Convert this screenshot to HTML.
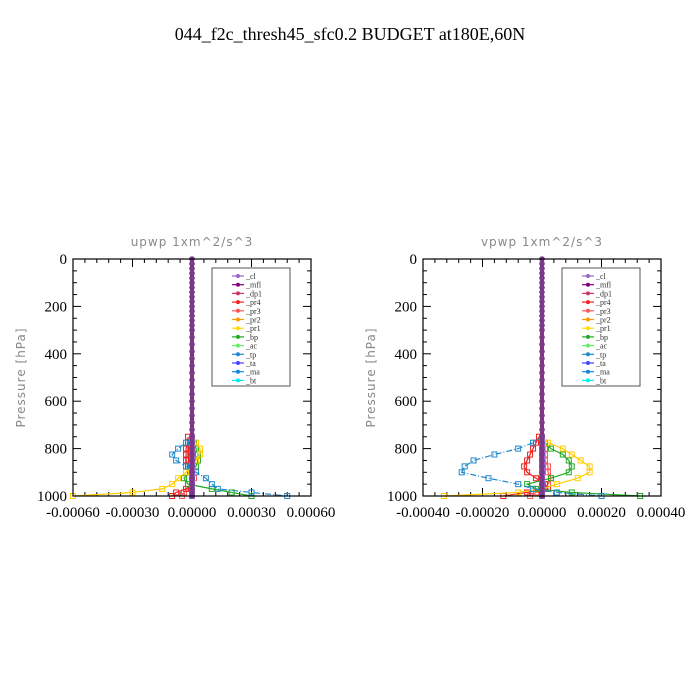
<!DOCTYPE html>
<html><head><meta charset="utf-8"><style>
html,body{margin:0;padding:0;background:#fff;width:700px;height:700px;overflow:hidden}
svg text{font-family:"Liberation Serif",serif}
.sub{font-family:"DejaVu Sans","Liberation Sans",sans-serif;fill:#888;font-size:12px;letter-spacing:1px}
</style></head><body>
<svg id="chart" width="700" height="700" xmlns="http://www.w3.org/2000/svg">
<text x="350" y="40" text-anchor="middle" font-size="18">044_f2c_thresh45_sfc0.2  BUDGET at180E,60N</text>
</svg>
<script>
const upperLevels=[0,20,40,60,80,100,120,140,160,180,200,220,240,260,280,300,330,360,390,420,450,480,510,540,570,600,630,660,690,720];
const lowLevels=[750,775,800,825,850,875,900,925,950,970,985,1000];
const seriesNames=["_cl","_mfl","_dp1","_pr4","_pr3","_pr2","_pr1","_bp","_ac","_tp","_ta","_ma","_bt"];
const seriesColors=["#9966cc","#800080","#cc3366","#ee2222","#ff5555","#ff9900","#ffdd00","#22aa22","#66ee66","#2288cc","#4444ff","#1188dd","#00eeee"];
const xTicksU=[-0.0006,-0.0003,0,0.0003,0.0006];
const xTickLabelsU=["-0.00060","-0.00030","0.00000","0.00030","0.00060"];
const xTicksV=[-0.0004,-0.0002,0,0.0002,0.0004];
const xTickLabelsV=["-0.00040","-0.00020","0.00000","0.00020","0.00040"];
const yTicks=[0,200,400,600,800,1000];
// upwp
const uTp=[0,-0.00003,-0.00007,-0.0001,-0.00008,-0.00003,0.00002,0.00007,0.0001,0.00013,0.0003,0.00048];
const uPr1=[0,0.00002,0.00004,0.00004,0.00002,0,-0.00003,-0.00007,-0.0001,-0.00015,-0.0003,-0.0006];
const uBp=[0,0.00001,0.00002,0.00003,0.00003,0.00002,-0.00001,-0.00004,-0.00002,0.0001,0.0002,0.0003];
const uPr4=[-0.00002,-0.00002,-0.00003,-0.00003,-0.00003,-0.00002,-0.00001,0,0,-0.00003,-0.00008,-0.0001];
const uPr3=[0,-0.00001,-0.00001,-0.00001,-0.00002,-0.00001,0,0.00001,0,-0.00002,-0.00004,-0.00005];
const uCl=[0,0,0,0,0,0,0,0,0,0,0,0];
// vpwp
const vTp=[0,-0.00003,-0.00008,-0.00016,-0.00023,-0.00026,-0.00027,-0.00018,-0.00008,-0.00003,0.00005,0.0002];
const vPr1=[0,0.00002,0.00007,0.0001,0.00013,0.00016,0.00016,0.00012,0.00005,0,-0.00008,-0.00033];
const vBp=[0,0.00001,0.00003,0.00007,0.00009,0.0001,0.00009,0.00003,-0.00005,-0.00002,0.0001,0.00033];
const vPr4=[-0.00001,-0.00002,-0.00003,-0.00004,-0.00005,-0.00006,-0.00005,-0.00002,0.00001,0.00002,-0.00005,-0.00013];
const vPr3=[0,0.00001,0.00001,0.00001,0.00001,0.00002,0.00002,0.00003,0.00002,0.00001,-0.00002,-0.00004];
const vCl=[0,0,0,0,0,0,0,0,0,0,0,0];

const NS="http://www.w3.org/2000/svg";
const svg=document.getElementById("chart");
function mk(tag,attrs,parent){const e=document.createElementNS(NS,tag);for(const k in attrs)e.setAttribute(k,attrs[k]);(parent||svg).appendChild(e);return e;}

function panel(x0,title,prefix,xmax,xTicks,xLabels,series){
  const y0=259,w=238,h=237;
  const g=mk("g",{});
  
  
  const sx=v=>x0+(v+xmax)/(2*xmax)*w;
  const sy=p=>y0+p/1000*h;
  const t=mk("text",{x:x0+w/2,y:246,"text-anchor":"middle",class:"sub"},g);
  t.textContent=title;
  
  
  const yl=mk("text",{x:0,y:0,"text-anchor":"middle",class:"sub",transform:`translate(${x0-48},${y0+h/2}) rotate(-90)`},g);
  yl.textContent="Pressure [hPa]";
  
  
  // ticks
  for(let p=0;p<=1000;p+=50){
    const len=p%200===0?8:4;
    mk("line",{x1:x0,x2:x0+len,y1:sy(p),y2:sy(p),stroke:"#000"},g);
    mk("line",{x1:x0+w,x2:x0+w-len,y1:sy(p),y2:sy(p),stroke:"#000"},g);
  }
  yTicks.forEach(p=>{
    const tl=mk("text",{x:x0-6,y:sy(p)+5,"text-anchor":"end","font-size":"15"},g);
    tl.textContent=String(p);
    
    
  });
  const step=(xTicks[1]-xTicks[0])/5;
  for(let v=-xmax;v<=xmax+1e-12;v+=step){
    const major=xTicks.some(t=>Math.abs(t-v)<1e-12);
    const len=major?8:4;
    mk("line",{x1:sx(v),x2:sx(v),y1:y0+h,y2:y0+h-len,stroke:"#000"},g);
    mk("line",{x1:sx(v),x2:sx(v),y1:y0,y2:y0+len,stroke:"#000"},g);
  }
  xTicks.forEach((v,i)=>{
    const tl=mk("text",{x:sx(v),y:y0+h+21,"text-anchor":"middle","font-size":"15"},g);
    tl.textContent=xLabels[i];
    
    
  });
  // series
  series.forEach(s=>{
    const pts=lowLevels.map((p,i)=>sx(s.vals[i])+","+sy(p)).join(" ");
    const pl=mk("polyline",{points:pts,fill:"none",stroke:s.color,"stroke-width":"1.2","stroke-dasharray":s.dash||""},g);
    
    
    lowLevels.forEach((p,i)=>{
      const m=mk("rect",{x:sx(s.vals[i])-2.5,y:sy(p)-2.5,width:5,height:5,fill:"none",stroke:s.color},g);
      
      
    });
  });
  // central zero line for cl/mfl/dp1
  const cx=sx(0);
  const cl=mk("line",{x1:cx,x2:cx,y1:y0,y2:y0+h,stroke:"#883377","stroke-width":"4"},g);
  
  
  upperLevels.concat(lowLevels).forEach(p=>{
    const d=mk("circle",{cx:cx,cy:sy(p),r:2.8,fill:"#7a3a8a"},g);
    
    
  });
  mk("rect",{x:x0,y:y0,width:w,height:h,fill:"none",stroke:"#000","stroke-width":"1.2"},g);
  // legend
  const lx=x0+139,ly=268;
  const lg=mk("g",{},g);
  
  
  mk("rect",{x:lx,y:ly,width:78,height:118,fill:"#fff",stroke:"#555"},lg);
  seriesNames.forEach((n,i)=>{
    const yy=ly+8+i*8.7;
    mk("line",{x1:lx+20,x2:lx+32,y1:yy,y2:yy,stroke:seriesColors[i],"stroke-width":"1.2"},lg);
    mk("circle",{cx:lx+26,cy:yy,r:2,fill:seriesColors[i]},lg);
    const tt=mk("text",{x:lx+34,y:yy+3,"font-size":"8","font-family":"DejaVu Sans, sans-serif",fill:"#333"},lg);
    tt.textContent=n;
    
    
  });
}
panel(73,"upwp   1xm^2/s^3","upwp",0.0006,xTicksU,xTickLabelsU,[
  {name:"_pr3",vals:uPr3,color:"#ff5555"},
  {name:"_pr4",vals:uPr4,color:"#ee2222"},
  {name:"_bp",vals:uBp,color:"#22aa22"},
  {name:"_pr1",vals:uPr1,color:"#ffcc00"},
  {name:"_tp",vals:uTp,color:"#2288cc",dash:"6,2,1,2"},
  {name:"_cl0",vals:uCl,color:"#9966cc"}]);
panel(423,"vpwp   1xm^2/s^3","vpwp",0.0004,xTicksV,xTickLabelsV,[
  {name:"_pr3",vals:vPr3,color:"#ff5555"},
  {name:"_pr4",vals:vPr4,color:"#ee2222"},
  {name:"_bp",vals:vBp,color:"#22aa22"},
  {name:"_pr1",vals:vPr1,color:"#ffcc00"},
  {name:"_tp",vals:vTp,color:"#2288cc",dash:"6,2,1,2"},
  {name:"_cl0",vals:vCl,color:"#9966cc"}]);
</script>
</body></html>
